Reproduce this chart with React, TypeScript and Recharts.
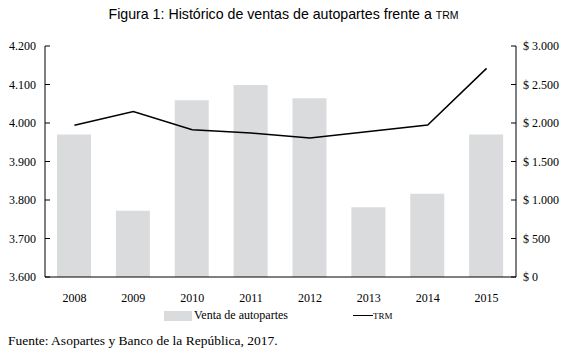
import { ComposedChart, Bar, Line, XAxis, YAxis } from 'recharts'

const years: string[] = ['2008', '2009', '2010', '2011', '2012', '2013', '2014', '2015']
const ventas: number[] = [3970, 3772, 4059, 4099, 4064, 3781, 3816, 3970]
const trm: number[] = [1970, 2148, 1913, 1870, 1805, 1891, 1975, 2709]
const leftTicks: number[] = [3600, 3700, 3800, 3900, 4000, 4100, 4200]
const rightTicks: number[] = [0, 500, 1000, 1500, 2000, 2500, 3000]

const data = years.map((year, i) => ({ year, ventas: ventas[i], trm: trm[i] }))

const BAR_COLOR = '#dadbdd'
const serif = '"Liberation Serif", "Times New Roman", serif'
const sans = '"Liberation Sans", Arial, sans-serif'

const miles = (v: number) => v.toLocaleString('de-DE')
const pesos = (v: number) => `$ ${v.toLocaleString('de-DE')}`

const tickStyle = { fontFamily: serif, fontSize: 12, fill: '#000' }

function App() {
  return (
    <div style={{ position: 'absolute', left: 0, top: 0, width: 567, height: 357, background: '#fff' }}>
      <div
        style={{
          position: 'absolute',
          top: 6,
          left: 0,
          width: 567,
          textAlign: 'center',
          fontFamily: sans,
          fontSize: 14.2,
          color: '#000',
        }}
      >
        Figura 1: Histórico de ventas de autopartes frente a <span style={{ fontSize: 10.5 }}>TRM</span>
      </div>

      <ComposedChart
        width={567}
        height={312}
        data={data}
        margin={{ top: 46, right: 0, bottom: 12, left: 0 }}
        style={{ position: 'absolute', left: 0, top: 0 }}
      >
        <XAxis
          dataKey="year"
          height={23}
          tickLine={false}
          tickMargin={10}
          axisLine={{ stroke: '#000' }}
          tick={tickStyle}
        />
        <YAxis
          yAxisId="left"
          orientation="left"
          width={45}
          domain={[3600, 4200]}
          ticks={leftTicks}
          tickFormatter={miles}
          tickSize={-5}
          tickMargin={14}
          axisLine={{ stroke: '#000' }}
          tickLine={{ stroke: '#000' }}
          tick={tickStyle}
          allowDataOverflow
        />
        <YAxis
          yAxisId="right"
          orientation="right"
          width={51}
          domain={[0, 3000]}
          ticks={rightTicks}
          tickFormatter={pesos}
          tickSize={-5}
          tickMargin={12}
          axisLine={{ stroke: '#000' }}
          tickLine={{ stroke: '#000' }}
          tick={{ ...tickStyle, textAnchor: 'start' }}
        />
        <Bar yAxisId="left" dataKey="ventas" fill={BAR_COLOR} barSize={34} isAnimationActive={false} />
        <Line
          yAxisId="right"
          dataKey="trm"
          type="linear"
          stroke="#000"
          strokeWidth={1.5}
          dot={false}
          isAnimationActive={false}
        />
      </ComposedChart>

      <div style={{ position: 'absolute', top: 308, left: 164, fontFamily: serif, fontSize: 12, color: '#000', display: 'flex', alignItems: 'center' }}>
        <span style={{ display: 'inline-block', width: 28, height: 10, background: BAR_COLOR, marginRight: 2 }} />
        <span>Venta de autopartes</span>
        <span style={{ display: 'inline-block', width: 20, height: 0, borderTop: '1.5px solid #000', marginLeft: 65 }} />
        <span style={{ fontSize: 9 }}>TRM</span>
      </div>

      <div style={{ position: 'absolute', top: 333, left: 8, fontFamily: serif, fontSize: 13.5, color: '#000' }}>
        Fuente: Asopartes y Banco de la República, 2017.
      </div>
    </div>
  )
}

export default App
